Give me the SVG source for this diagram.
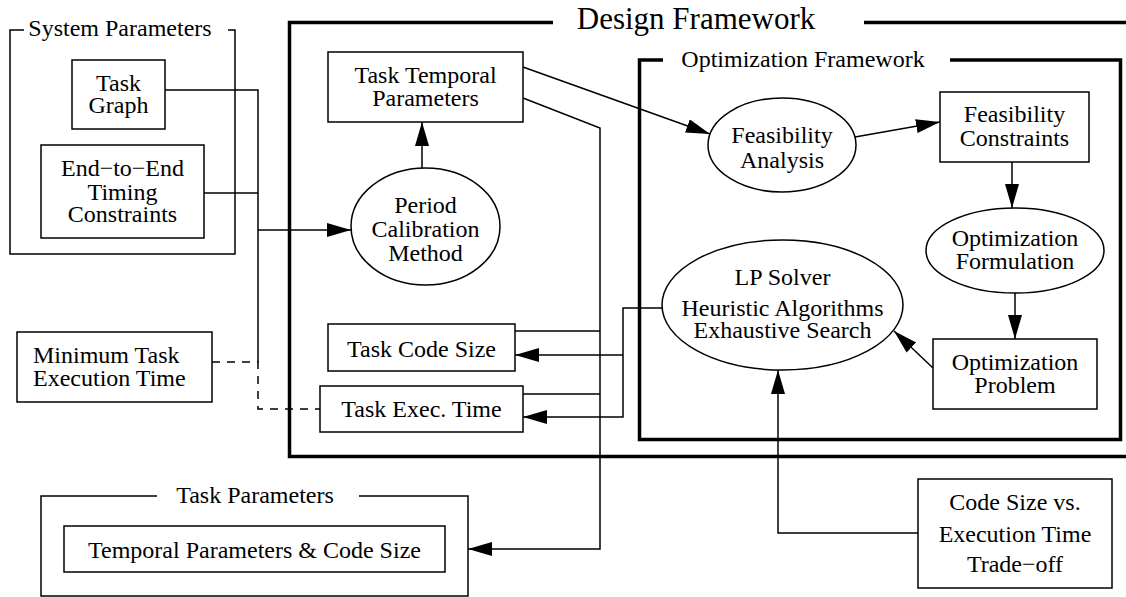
<svg xmlns="http://www.w3.org/2000/svg" width="1126" height="597" viewBox="0 0 1126 597">
<style>
text{font-family:"Liberation Serif","Times New Roman",serif;font-size:24px;fill:#000;text-anchor:middle}
.box{fill:#fff;stroke:#000;stroke-width:1.5}
.frame{fill:none;stroke:#000;stroke-width:1.5}
.thick{fill:none;stroke:#000;stroke-width:3.5}
.ln{fill:none;stroke:#000;stroke-width:1.5}
.arr{fill:none;stroke:#000;stroke-width:1.5;marker-end:url(#ah)}
.dash{fill:none;stroke:#000;stroke-width:1.5;stroke-dasharray:8,7}
</style>
<defs>
<marker id="ah" markerUnits="userSpaceOnUse" markerWidth="26" markerHeight="16" refX="24" refY="7" orient="auto">
<path d="M0,0 L24,7 L0,14 z" fill="#000"/>
</marker>
</defs>
<rect width="1126" height="597" fill="#fff"/>

<g id="system-parameters">
<path class="frame" d="M24,30 H10 V254 H235 V30 H228"/>
<text x="120" y="36">System Parameters</text>
</g>
<g id="design-framework">
<path class="thick" d="M553,22.5 H289.5 V456.5 H1130 M864,22.5 H1130"/>
<text x="696" y="29" style="font-size:31px">Design Framework</text>
</g>
<g id="optimization-framework">
<path class="thick" d="M663,60 H639.5 V439.5 H1120.5 V60 H950"/>
<text x="803" y="67">Optimization Framework</text>
</g>
<g id="task-parameters">
<path class="frame" d="M157,496 H41 V596 H468 V496 H359"/>
<text x="255" y="503">Task Parameters</text>
</g>

<g id="connectors">
<path class="ln" d="M165,90 H258 V362 M204,193 H258"/>
<path class="arr" d="M258,230 H351"/>
<path class="dash" d="M212,362 H258 V409 H320"/>
<path class="arr" d="M422,168 V122"/>
<path class="arr" d="M523,67 L710,134"/>
<path class="arr" d="M523,98 L600,128 V549 H468"/>
<path class="ln" d="M515,331 H600 M523,394 H600"/>
<path class="arr" d="M662,308 H623 V417 H523"/>
<path class="arr" d="M623,355 H515"/>
<path class="arr" d="M855,137 L940,122"/>
<path class="arr" d="M1012,162 V208"/>
<path class="arr" d="M1015,293 V339"/>
<path class="arr" d="M933,368 L894,331"/>
<path class="arr" d="M918,533 H778 V370"/>
</g>

<g id="task-graph">
<rect class="box" x="72" y="60" width="93" height="69"/>
<text x="118.5" y="91">Task</text>
<text x="118.5" y="113">Graph</text>
</g>
<g id="end-to-end">
<rect class="box" x="41" y="145" width="163" height="93"/>
<text x="122.5" y="176">End−to−End</text>
<text x="122.5" y="200">Timing</text>
<text x="122.5" y="222">Constraints</text>
</g>
<g id="minimum-task">
<rect class="box" x="17" y="332" width="195" height="70"/>
<text x="33" y="363" style="text-anchor:start">Minimum Task</text>
<text x="33" y="386" style="text-anchor:start">Execution Time</text>
</g>
<g id="task-temporal">
<rect class="box" x="328" y="52" width="195" height="70"/>
<text x="425.5" y="83">Task Temporal</text>
<text x="425.5" y="106">Parameters</text>
</g>
<g id="period-calibration">
<ellipse class="box" cx="425.5" cy="226.5" rx="74.5" ry="58.5"/>
<text x="425.5" y="213">Period</text>
<text x="425.5" y="237">Calibration</text>
<text x="425.5" y="261">Method</text>
</g>
<g id="task-code-size">
<rect class="box" x="328" y="324" width="187" height="47"/>
<text x="421.5" y="357">Task Code Size</text>
</g>
<g id="task-exec-time">
<rect class="box" x="320" y="386" width="203" height="46"/>
<text x="421.5" y="417">Task Exec. Time</text>
</g>
<g id="temporal-code-size">
<rect class="box" x="64" y="526" width="381" height="46"/>
<text x="254.5" y="558">Temporal Parameters &amp; Code Size</text>
</g>
<g id="feasibility-analysis">
<ellipse class="box" cx="782" cy="145" rx="74" ry="47"/>
<text x="782" y="143">Feasibility</text>
<text x="782" y="168">Analysis</text>
</g>
<g id="feasibility-constraints">
<rect class="box" x="940" y="92" width="149" height="70"/>
<text x="1014.5" y="122">Feasibility</text>
<text x="1014.5" y="146">Constraints</text>
</g>
<g id="optimization-formulation">
<ellipse class="box" cx="1015" cy="250.5" rx="89" ry="42.5"/>
<text x="1015" y="246">Optimization</text>
<text x="1015" y="269">Formulation</text>
</g>
<g id="optimization-problem">
<rect class="box" x="933" y="339" width="164" height="70"/>
<text x="1015" y="370">Optimization</text>
<text x="1015" y="393">Problem</text>
</g>
<g id="solver">
<ellipse class="box" cx="782.5" cy="305" rx="120.5" ry="65"/>
<text x="782.5" y="285">LP Solver</text>
<text x="782.5" y="316">Heuristic Algorithms</text>
<text x="782.5" y="338">Exhaustive Search</text>
</g>
<g id="tradeoff">
<rect class="box" x="918" y="479" width="194" height="109"/>
<text x="1015" y="510">Code Size vs.</text>
<text x="1015" y="542">Execution Time</text>
<text x="1015" y="572">Trade−off</text>
</g>
</svg>
